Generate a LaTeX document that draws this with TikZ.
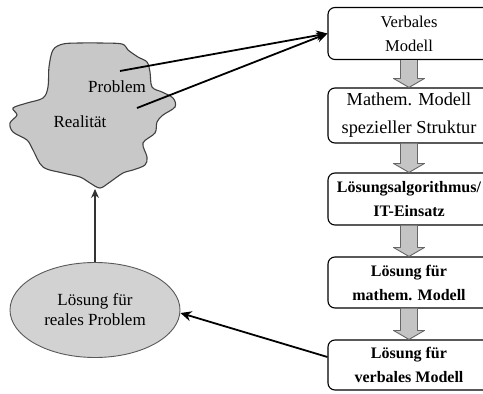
\documentclass[tikz,border=0pt]{standalone}
\usepackage{fontspec}
\setmainfont{Liberation Serif}
\usetikzlibrary{calc,shapes.geometric,arrows.meta}
\definecolor{cloudgray}{RGB}{200,200,200}
\definecolor{ellgray}{RGB}{210,210,210}
\definecolor{arrgray}{RGB}{196,196,196}
\newcommand{\hollowarr}[2]{%
  \draw[hollow] ($(#1.south)+(-8.5,0)$) -- ($(#2.north)+(-8.5,-9)$) -- ($(#2.north)+(-15.5,-9)$)
    -- (#2.north) -- ($(#2.north)+(15.5,-9)$) -- ($(#2.north)+(8.5,-9)$) -- ($(#1.south)+(8.5,0)$);}
\begin{document}
\begin{tikzpicture}[x=1pt,y=-1pt,
  stepbox/.style={draw=black,line width=1.1pt,rounded corners=7pt,fill=white,
    minimum width=162pt,minimum height=52pt,align=center,inner sep=0pt},
  hollow/.style={draw=black!60,line width=0.9pt,fill=arrgray,line join=round},
  thickarrow/.style={line width=1.8pt,-{Stealth[length=11pt,width=10pt]}},
  thinarrow/.style={line width=1.2pt,black!80,-{Stealth[length=9pt,width=8pt]}},
  rfont/.style={font=\fontsize{17}{24}\selectfont},
  bfont/.style={font=\fontsize{16}{24}\selectfont\bfseries}]
\useasboundingbox (0,0) rectangle (483,394);
\clip (0,0) rectangle (483,394);
\fill[white] (0,0) rectangle (483,394);
% cloud
\draw[fill=cloudgray,draw=black!75,line width=1.1pt] plot[smooth cycle,tension=0.55] coordinates {
  (53,50) (63,44) (80,43) (100,43) (122,44) (128,50) (138,57) (147,62) (150,72) (152,87) (162,92)
  (173,98) (175,107) (163,115) (157,122) (155,133) (143,143) (147,157) (145,165)
  (133,170) (123,173) (110,182) (100,188) (90,183) (80,177) (63,173) (43,167)
  (33,150) (27,140) (13,132) (10,123) (17,115) (13,108) (27,103) (43,98) (48,87) (49,67)};
\node[rfont] (prob) at (117,87) {Problem};
\node[rfont] (real) at (80,122) {Realität};
\coordinate (p1) at (120,71);
\coordinate (p2) at (137,108);
\coordinate (cloudbot) at (95,189);
% boxes
\node[stepbox,font=\fontsize{16.5}{24}\selectfont] (b1) at (409,33.5) {Verbales\\Modell};
\node[stepbox,minimum height=55pt,font=\fontsize{18.3}{28}\selectfont] (b2) at (409,115.5) {Mathem. Modell\\spezieller Struktur};
\node[stepbox,bfont] (b3) at (409,199) {Lösungsalgorithmus/\\IT-Einsatz};
\node[stepbox,bfont,minimum height=51pt] (b4) at (409,282.5) {Lösung für\\mathem. Modell};
\node[stepbox,bfont,minimum height=50pt] (b5) at (409,365) {Lösung für\\verbales Modell};
\hollowarr{b1}{b2}
\hollowarr{b2}{b3}
\hollowarr{b3}{b4}
\hollowarr{b4}{b5}
% ellipse
\node[ellipse,draw=black!65,line width=0.9pt,fill=ellgray,minimum width=170pt,minimum height=95pt,
  inner sep=0pt,align=center,font=\fontsize{17}{20}\selectfont] (ell) at (95,310) {Lösung für\\reales Problem};
% connectors
\draw[thickarrow] (p1) -- (b1.west);
\draw[thickarrow] (p2) -- (b1.west);
\draw[thinarrow] (ell.north) -- (cloudbot);
\draw[thickarrow] ([yshift=8pt]b5.west) -- ([yshift=-3pt]ell.east);
\end{tikzpicture}
\end{document}
